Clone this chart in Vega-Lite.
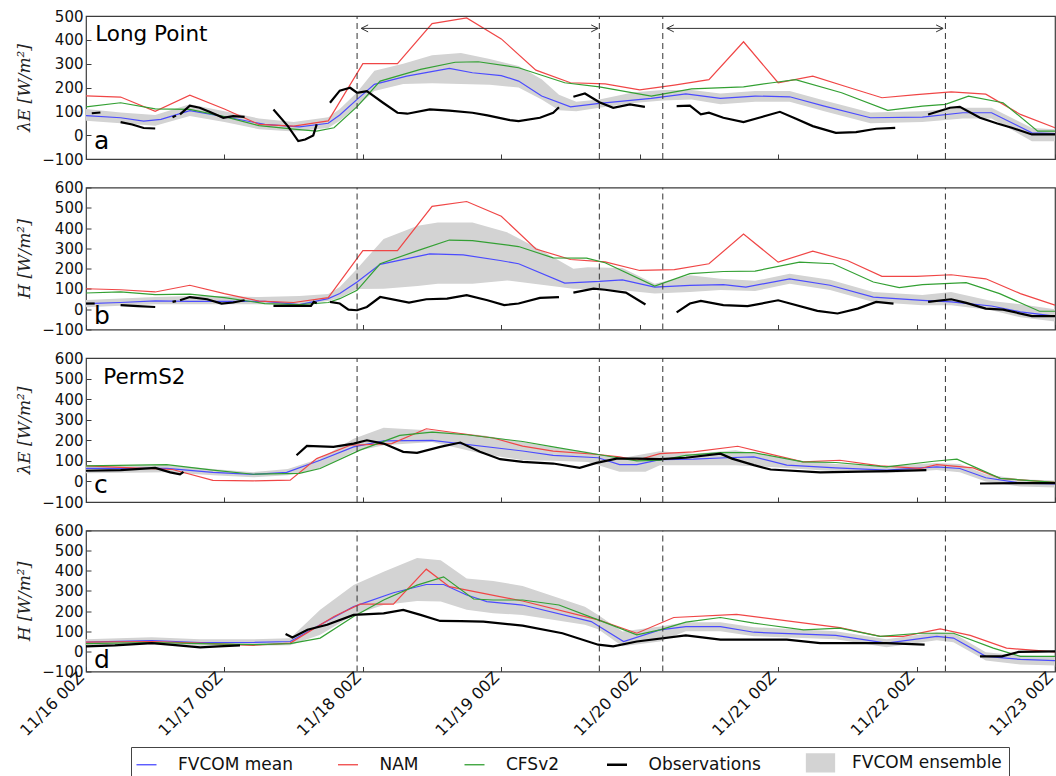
{
  "$schema": "https://vega.github.io/schema/vega-lite/v6.json",
  "padding": {"left": 15, "top": 8, "right": 1, "bottom": 0},
  "bounds": "flush",
  "spacing": 28.5,
  "datasets": {
    "L": [
      {"p":"a","s":"FVCOM mean","g":0,"h":0,"v":82},{"p":"a","s":"FVCOM mean","g":0,"h":6,"v":73},{"p":"a","s":"FVCOM mean","g":0,"h":10,"v":59},{"p":"a","s":"FVCOM mean","g":0,"h":13,"v":66},{"p":"a","s":"FVCOM mean","g":0,"h":18,"v":103},{"p":"a","s":"FVCOM mean","g":0,"h":25,"v":73},{"p":"a","s":"FVCOM mean","g":0,"h":31,"v":45},{"p":"a","s":"FVCOM mean","g":0,"h":37,"v":35},{"p":"a","s":"FVCOM mean","g":0,"h":42,"v":50},{"p":"a","s":"FVCOM mean","g":0,"h":44,"v":85},{"p":"a","s":"FVCOM mean","g":0,"h":47,"v":150},{"p":"a","s":"FVCOM mean","g":0,"h":50,"v":213},{"p":"a","s":"FVCOM mean","g":0,"h":55.6,"v":248},{"p":"a","s":"FVCOM mean","g":0,"h":63,"v":280},{"p":"a","s":"FVCOM mean","g":0,"h":67,"v":262},{"p":"a","s":"FVCOM mean","g":0,"h":72,"v":250},{"p":"a","s":"FVCOM mean","g":0,"h":75,"v":227},{"p":"a","s":"FVCOM mean","g":0,"h":79,"v":164},{"p":"a","s":"FVCOM mean","g":0,"h":84,"v":119},{"p":"a","s":"FVCOM mean","g":0,"h":89,"v":133},{"p":"a","s":"FVCOM mean","g":0,"h":98,"v":154},{"p":"a","s":"FVCOM mean","g":0,"h":104,"v":173},{"p":"a","s":"FVCOM mean","g":0,"h":110,"v":154},{"p":"a","s":"FVCOM mean","g":0,"h":116,"v":164},{"p":"a","s":"FVCOM mean","g":0,"h":122,"v":161},{"p":"a","s":"FVCOM mean","g":0,"h":128,"v":122},{"p":"a","s":"FVCOM mean","g":0,"h":136,"v":73},{"p":"a","s":"FVCOM mean","g":0,"h":145,"v":76},{"p":"a","s":"FVCOM mean","g":0,"h":152,"v":94},{"p":"a","s":"FVCOM mean","g":0,"h":157,"v":94},{"p":"a","s":"FVCOM mean","g":0,"h":164,"v":10},{"p":"a","s":"FVCOM mean","g":0,"h":168,"v":7},
      {"p":"a","s":"NAM","g":0,"h":0,"v":165},{"p":"a","s":"NAM","g":0,"h":6,"v":160},{"p":"a","s":"NAM","g":0,"h":12,"v":100},{"p":"a","s":"NAM","g":0,"h":18,"v":168},{"p":"a","s":"NAM","g":0,"h":24,"v":110},{"p":"a","s":"NAM","g":0,"h":30,"v":45},{"p":"a","s":"NAM","g":0,"h":36,"v":38},{"p":"a","s":"NAM","g":0,"h":42,"v":60},{"p":"a","s":"NAM","g":0,"h":48,"v":300},{"p":"a","s":"NAM","g":0,"h":54,"v":300},{"p":"a","s":"NAM","g":0,"h":60,"v":468},{"p":"a","s":"NAM","g":0,"h":66,"v":492},{"p":"a","s":"NAM","g":0,"h":72,"v":404},{"p":"a","s":"NAM","g":0,"h":78,"v":273},{"p":"a","s":"NAM","g":0,"h":84,"v":220},{"p":"a","s":"NAM","g":0,"h":90,"v":215},{"p":"a","s":"NAM","g":0,"h":96,"v":190},{"p":"a","s":"NAM","g":0,"h":102,"v":210},{"p":"a","s":"NAM","g":0,"h":108,"v":233},{"p":"a","s":"NAM","g":0,"h":114,"v":392},{"p":"a","s":"NAM","g":0,"h":120,"v":220},{"p":"a","s":"NAM","g":0,"h":126,"v":248},{"p":"a","s":"NAM","g":0,"h":132,"v":202},{"p":"a","s":"NAM","g":0,"h":138,"v":157},{"p":"a","s":"NAM","g":0,"h":144,"v":170},{"p":"a","s":"NAM","g":0,"h":150,"v":182},{"p":"a","s":"NAM","g":0,"h":156,"v":172},{"p":"a","s":"NAM","g":0,"h":162,"v":87},{"p":"a","s":"NAM","g":0,"h":168,"v":31},
      {"p":"a","s":"CFSv2","g":0,"h":0,"v":119},{"p":"a","s":"CFSv2","g":0,"h":6,"v":136},{"p":"a","s":"CFSv2","g":0,"h":12,"v":110},{"p":"a","s":"CFSv2","g":0,"h":18,"v":108},{"p":"a","s":"CFSv2","g":0,"h":24,"v":78},{"p":"a","s":"CFSv2","g":0,"h":30,"v":40},{"p":"a","s":"CFSv2","g":0,"h":36,"v":25},{"p":"a","s":"CFSv2","g":0,"h":40,"v":17},{"p":"a","s":"CFSv2","g":0,"h":43,"v":31},{"p":"a","s":"CFSv2","g":0,"h":47,"v":120},{"p":"a","s":"CFSv2","g":0,"h":51,"v":227},{"p":"a","s":"CFSv2","g":0,"h":58,"v":276},{"p":"a","s":"CFSv2","g":0,"h":64,"v":306},{"p":"a","s":"CFSv2","g":0,"h":68,"v":308},{"p":"a","s":"CFSv2","g":0,"h":75,"v":283},{"p":"a","s":"CFSv2","g":0,"h":83,"v":220},{"p":"a","s":"CFSv2","g":0,"h":89,"v":203},{"p":"a","s":"CFSv2","g":0,"h":98,"v":164},{"p":"a","s":"CFSv2","g":0,"h":105,"v":194},{"p":"a","s":"CFSv2","g":0,"h":114,"v":203},{"p":"a","s":"CFSv2","g":0,"h":119,"v":220},{"p":"a","s":"CFSv2","g":0,"h":123,"v":233},{"p":"a","s":"CFSv2","g":0,"h":131,"v":178},{"p":"a","s":"CFSv2","g":0,"h":139,"v":104},{"p":"a","s":"CFSv2","g":0,"h":145,"v":122},{"p":"a","s":"CFSv2","g":0,"h":149,"v":129},{"p":"a","s":"CFSv2","g":0,"h":153,"v":164},{"p":"a","s":"CFSv2","g":0,"h":159,"v":136},{"p":"a","s":"CFSv2","g":0,"h":165,"v":17},{"p":"a","s":"CFSv2","g":0,"h":168,"v":17},
      {"p":"a","s":"Observations","g":1,"h":1,"v":92},{"p":"a","s":"Observations","g":1,"h":2.5,"v":95},
      {"p":"a","s":"Observations","g":2,"h":6,"v":55},{"p":"a","s":"Observations","g":2,"h":8,"v":45},{"p":"a","s":"Observations","g":2,"h":10,"v":30},{"p":"a","s":"Observations","g":2,"h":12,"v":28},
      {"p":"a","s":"Observations","g":3,"h":15,"v":75},{"p":"a","s":"Observations","g":3,"h":15.6,"v":82},
      {"p":"a","s":"Observations","g":4,"h":16.3,"v":87},{"p":"a","s":"Observations","g":4,"h":18,"v":124},{"p":"a","s":"Observations","g":4,"h":19.7,"v":115},{"p":"a","s":"Observations","g":4,"h":21.5,"v":97},{"p":"a","s":"Observations","g":4,"h":23.8,"v":73},{"p":"a","s":"Observations","g":4,"h":25.5,"v":80},{"p":"a","s":"Observations","g":4,"h":27.5,"v":77},
      {"p":"a","s":"Observations","g":5,"h":32.5,"v":108},{"p":"a","s":"Observations","g":5,"h":35,"v":38},{"p":"a","s":"Observations","g":5,"h":36.8,"v":-25},{"p":"a","s":"Observations","g":5,"h":38,"v":-18},{"p":"a","s":"Observations","g":5,"h":39.4,"v":-1},{"p":"a","s":"Observations","g":5,"h":40,"v":45},
      {"p":"a","s":"Observations","g":6,"h":42.3,"v":136},{"p":"a","s":"Observations","g":6,"h":44,"v":187},{"p":"a","s":"Observations","g":6,"h":45.8,"v":199},{"p":"a","s":"Observations","g":6,"h":47,"v":178},{"p":"a","s":"Observations","g":6,"h":48.7,"v":185},{"p":"a","s":"Observations","g":6,"h":51.5,"v":136},{"p":"a","s":"Observations","g":6,"h":54,"v":94},{"p":"a","s":"Observations","g":6,"h":55.7,"v":90},{"p":"a","s":"Observations","g":6,"h":59.6,"v":108},{"p":"a","s":"Observations","g":6,"h":63,"v":103},{"p":"a","s":"Observations","g":6,"h":67,"v":94},{"p":"a","s":"Observations","g":6,"h":69.6,"v":83},{"p":"a","s":"Observations","g":6,"h":73.5,"v":63},{"p":"a","s":"Observations","g":6,"h":75,"v":59},{"p":"a","s":"Observations","g":6,"h":78.7,"v":73},{"p":"a","s":"Observations","g":6,"h":81,"v":94},{"p":"a","s":"Observations","g":6,"h":82,"v":117},
      {"p":"a","s":"Observations","g":7,"h":84.5,"v":161},{"p":"a","s":"Observations","g":7,"h":86.5,"v":175},{"p":"a","s":"Observations","g":7,"h":89,"v":138},{"p":"a","s":"Observations","g":7,"h":91.4,"v":115},{"p":"a","s":"Observations","g":7,"h":94.3,"v":129},{"p":"a","s":"Observations","g":7,"h":96.9,"v":119},
      {"p":"a","s":"Observations","g":8,"h":102.4,"v":122},{"p":"a","s":"Observations","g":8,"h":104.7,"v":124},{"p":"a","s":"Observations","g":8,"h":106.6,"v":87},{"p":"a","s":"Observations","g":8,"h":108,"v":94},{"p":"a","s":"Observations","g":8,"h":110.5,"v":73},{"p":"a","s":"Observations","g":8,"h":114,"v":55},{"p":"a","s":"Observations","g":8,"h":117,"v":75},{"p":"a","s":"Observations","g":8,"h":120.3,"v":98},{"p":"a","s":"Observations","g":8,"h":123,"v":70},{"p":"a","s":"Observations","g":8,"h":126,"v":38},{"p":"a","s":"Observations","g":8,"h":130,"v":10},{"p":"a","s":"Observations","g":8,"h":133.5,"v":13},{"p":"a","s":"Observations","g":8,"h":137,"v":27},{"p":"a","s":"Observations","g":8,"h":140.3,"v":31},
      {"p":"a","s":"Observations","g":9,"h":146,"v":87},{"p":"a","s":"Observations","g":9,"h":149.8,"v":115},{"p":"a","s":"Observations","g":9,"h":151.5,"v":119},{"p":"a","s":"Observations","g":9,"h":155,"v":73},{"p":"a","s":"Observations","g":9,"h":158,"v":49},{"p":"a","s":"Observations","g":9,"h":160.5,"v":31},{"p":"a","s":"Observations","g":9,"h":164,"v":3},{"p":"a","s":"Observations","g":9,"h":168,"v":3},

      {"p":"b","s":"FVCOM mean","g":0,"h":0,"v":28},{"p":"b","s":"FVCOM mean","g":0,"h":6,"v":33},{"p":"b","s":"FVCOM mean","g":0,"h":12,"v":41},{"p":"b","s":"FVCOM mean","g":0,"h":18,"v":39},{"p":"b","s":"FVCOM mean","g":0,"h":24,"v":39},{"p":"b","s":"FVCOM mean","g":0,"h":31,"v":39},{"p":"b","s":"FVCOM mean","g":0,"h":37,"v":23},{"p":"b","s":"FVCOM mean","g":0,"h":42,"v":52},{"p":"b","s":"FVCOM mean","g":0,"h":44,"v":77},{"p":"b","s":"FVCOM mean","g":0,"h":47,"v":134},{"p":"b","s":"FVCOM mean","g":0,"h":51,"v":221},{"p":"b","s":"FVCOM mean","g":0,"h":59.6,"v":273},{"p":"b","s":"FVCOM mean","g":0,"h":65.4,"v":268},{"p":"b","s":"FVCOM mean","g":0,"h":71.8,"v":240},{"p":"b","s":"FVCOM mean","g":0,"h":75,"v":224},{"p":"b","s":"FVCOM mean","g":0,"h":83,"v":129},{"p":"b","s":"FVCOM mean","g":0,"h":89,"v":137},{"p":"b","s":"FVCOM mean","g":0,"h":93,"v":145},{"p":"b","s":"FVCOM mean","g":0,"h":98.6,"v":109},{"p":"b","s":"FVCOM mean","g":0,"h":104.7,"v":118},{"p":"b","s":"FVCOM mean","g":0,"h":110.5,"v":121},{"p":"b","s":"FVCOM mean","g":0,"h":114.4,"v":109},{"p":"b","s":"FVCOM mean","g":0,"h":122,"v":150},{"p":"b","s":"FVCOM mean","g":0,"h":129,"v":118},{"p":"b","s":"FVCOM mean","g":0,"h":136.5,"v":60},{"p":"b","s":"FVCOM mean","g":0,"h":145,"v":44},{"p":"b","s":"FVCOM mean","g":0,"h":150,"v":36},{"p":"b","s":"FVCOM mean","g":0,"h":157,"v":16},{"p":"b","s":"FVCOM mean","g":0,"h":162,"v":-13},{"p":"b","s":"FVCOM mean","g":0,"h":168,"v":-34},
      {"p":"b","s":"NAM","g":0,"h":0,"v":101},{"p":"b","s":"NAM","g":0,"h":6,"v":96},{"p":"b","s":"NAM","g":0,"h":12,"v":85},{"p":"b","s":"NAM","g":0,"h":18,"v":118},{"p":"b","s":"NAM","g":0,"h":24,"v":77},{"p":"b","s":"NAM","g":0,"h":30,"v":40},{"p":"b","s":"NAM","g":0,"h":36,"v":33},{"p":"b","s":"NAM","g":0,"h":42,"v":57},{"p":"b","s":"NAM","g":0,"h":48,"v":289},{"p":"b","s":"NAM","g":0,"h":54,"v":289},{"p":"b","s":"NAM","g":0,"h":60,"v":507},{"p":"b","s":"NAM","g":0,"h":66,"v":531},{"p":"b","s":"NAM","g":0,"h":72,"v":458},{"p":"b","s":"NAM","g":0,"h":78,"v":297},{"p":"b","s":"NAM","g":0,"h":84,"v":245},{"p":"b","s":"NAM","g":0,"h":90,"v":233},{"p":"b","s":"NAM","g":0,"h":96,"v":191},{"p":"b","s":"NAM","g":0,"h":102,"v":195},{"p":"b","s":"NAM","g":0,"h":108,"v":224},{"p":"b","s":"NAM","g":0,"h":114,"v":371},{"p":"b","s":"NAM","g":0,"h":120,"v":232},{"p":"b","s":"NAM","g":0,"h":126,"v":286},{"p":"b","s":"NAM","g":0,"h":132,"v":240},{"p":"b","s":"NAM","g":0,"h":138,"v":162},{"p":"b","s":"NAM","g":0,"h":144,"v":162},{"p":"b","s":"NAM","g":0,"h":150,"v":170},{"p":"b","s":"NAM","g":0,"h":156,"v":150},{"p":"b","s":"NAM","g":0,"h":162,"v":77},{"p":"b","s":"NAM","g":0,"h":168,"v":20},
      {"p":"b","s":"CFSv2","g":0,"h":0,"v":80},{"p":"b","s":"CFSv2","g":0,"h":6,"v":85},{"p":"b","s":"CFSv2","g":0,"h":12,"v":72},{"p":"b","s":"CFSv2","g":0,"h":18,"v":74},{"p":"b","s":"CFSv2","g":0,"h":24,"v":57},{"p":"b","s":"CFSv2","g":0,"h":31,"v":28},{"p":"b","s":"CFSv2","g":0,"h":37,"v":23},{"p":"b","s":"CFSv2","g":0,"h":42,"v":33},{"p":"b","s":"CFSv2","g":0,"h":44,"v":52},{"p":"b","s":"CFSv2","g":0,"h":47,"v":93},{"p":"b","s":"CFSv2","g":0,"h":51,"v":224},{"p":"b","s":"CFSv2","g":0,"h":57.5,"v":289},{"p":"b","s":"CFSv2","g":0,"h":63,"v":341},{"p":"b","s":"CFSv2","g":0,"h":67,"v":338},{"p":"b","s":"CFSv2","g":0,"h":75,"v":309},{"p":"b","s":"CFSv2","g":0,"h":81,"v":253},{"p":"b","s":"CFSv2","g":0,"h":86.8,"v":252},{"p":"b","s":"CFSv2","g":0,"h":90,"v":229},{"p":"b","s":"CFSv2","g":0,"h":98.6,"v":114},{"p":"b","s":"CFSv2","g":0,"h":104.7,"v":175},{"p":"b","s":"CFSv2","g":0,"h":110.5,"v":186},{"p":"b","s":"CFSv2","g":0,"h":116,"v":188},{"p":"b","s":"CFSv2","g":0,"h":123.7,"v":232},{"p":"b","s":"CFSv2","g":0,"h":129.5,"v":224},{"p":"b","s":"CFSv2","g":0,"h":136.5,"v":134},{"p":"b","s":"CFSv2","g":0,"h":141,"v":106},{"p":"b","s":"CFSv2","g":0,"h":145,"v":121},{"p":"b","s":"CFSv2","g":0,"h":152.6,"v":131},{"p":"b","s":"CFSv2","g":0,"h":158.4,"v":77},{"p":"b","s":"CFSv2","g":0,"h":165.3,"v":-10},{"p":"b","s":"CFSv2","g":0,"h":168,"v":-10},
      {"p":"b","s":"Observations","g":1,"h":0,"v":28},{"p":"b","s":"Observations","g":1,"h":1.5,"v":28},
      {"p":"b","s":"Observations","g":2,"h":6,"v":20},{"p":"b","s":"Observations","g":2,"h":9,"v":15},{"p":"b","s":"Observations","g":2,"h":12,"v":11},
      {"p":"b","s":"Observations","g":3,"h":15,"v":36},{"p":"b","s":"Observations","g":3,"h":15.6,"v":40},
      {"p":"b","s":"Observations","g":4,"h":16.3,"v":44},{"p":"b","s":"Observations","g":4,"h":18,"v":60},{"p":"b","s":"Observations","g":4,"h":21,"v":49},{"p":"b","s":"Observations","g":4,"h":23.5,"v":28},{"p":"b","s":"Observations","g":4,"h":25.5,"v":33},{"p":"b","s":"Observations","g":4,"h":27.5,"v":44},
      {"p":"b","s":"Observations","g":5,"h":32.5,"v":16},{"p":"b","s":"Observations","g":5,"h":36,"v":16},{"p":"b","s":"Observations","g":5,"h":39,"v":16},{"p":"b","s":"Observations","g":5,"h":39.5,"v":36},{"p":"b","s":"Observations","g":5,"h":40,"v":30},
      {"p":"b","s":"Observations","g":6,"h":42.3,"v":36},{"p":"b","s":"Observations","g":6,"h":44,"v":28},{"p":"b","s":"Observations","g":6,"h":45.5,"v":-2},{"p":"b","s":"Observations","g":6,"h":47,"v":-5},{"p":"b","s":"Observations","g":6,"h":48.7,"v":11},{"p":"b","s":"Observations","g":6,"h":51,"v":60},{"p":"b","s":"Observations","g":6,"h":56,"v":33},{"p":"b","s":"Observations","g":6,"h":59,"v":49},{"p":"b","s":"Observations","g":6,"h":62.6,"v":52},{"p":"b","s":"Observations","g":6,"h":66,"v":69},{"p":"b","s":"Observations","g":6,"h":69.6,"v":44},{"p":"b","s":"Observations","g":6,"h":72.5,"v":20},{"p":"b","s":"Observations","g":6,"h":75,"v":28},{"p":"b","s":"Observations","g":6,"h":78.7,"v":56},{"p":"b","s":"Observations","g":6,"h":82,"v":60},
      {"p":"b","s":"Observations","g":7,"h":84.5,"v":82},{"p":"b","s":"Observations","g":7,"h":88,"v":101},{"p":"b","s":"Observations","g":7,"h":90,"v":96},{"p":"b","s":"Observations","g":7,"h":93.6,"v":82},{"p":"b","s":"Observations","g":7,"h":97,"v":23},
      {"p":"b","s":"Observations","g":8,"h":102.4,"v":-16},{"p":"b","s":"Observations","g":8,"h":104.7,"v":28},{"p":"b","s":"Observations","g":8,"h":106.6,"v":41},{"p":"b","s":"Observations","g":8,"h":110.5,"v":20},{"p":"b","s":"Observations","g":8,"h":114.7,"v":15},{"p":"b","s":"Observations","g":8,"h":120,"v":44},{"p":"b","s":"Observations","g":8,"h":126.8,"v":-8},{"p":"b","s":"Observations","g":8,"h":130.3,"v":-21},{"p":"b","s":"Observations","g":8,"h":133.8,"v":3},{"p":"b","s":"Observations","g":8,"h":137,"v":36},{"p":"b","s":"Observations","g":8,"h":140,"v":28},
      {"p":"b","s":"Observations","g":9,"h":146,"v":36},{"p":"b","s":"Observations","g":9,"h":150,"v":49},{"p":"b","s":"Observations","g":9,"h":152.6,"v":31},{"p":"b","s":"Observations","g":9,"h":156,"v":3},{"p":"b","s":"Observations","g":9,"h":159,"v":-2},{"p":"b","s":"Observations","g":9,"h":164,"v":-34},{"p":"b","s":"Observations","g":9,"h":168,"v":-34},

      {"p":"c","s":"FVCOM mean","g":0,"h":0,"v":63},{"p":"c","s":"FVCOM mean","g":0,"h":14,"v":63},{"p":"c","s":"FVCOM mean","g":0,"h":22,"v":44},{"p":"c","s":"FVCOM mean","g":0,"h":29,"v":34},{"p":"c","s":"FVCOM mean","g":0,"h":34.8,"v":44},{"p":"c","s":"FVCOM mean","g":0,"h":40.6,"v":103},{"p":"c","s":"FVCOM mean","g":0,"h":46.4,"v":168},{"p":"c","s":"FVCOM mean","g":0,"h":51.6,"v":197},{"p":"c","s":"FVCOM mean","g":0,"h":60,"v":200},{"p":"c","s":"FVCOM mean","g":0,"h":75.7,"v":148},{"p":"c","s":"FVCOM mean","g":0,"h":81,"v":127},{"p":"c","s":"FVCOM mean","g":0,"h":88.8,"v":115},{"p":"c","s":"FVCOM mean","g":0,"h":92.5,"v":82},{"p":"c","s":"FVCOM mean","g":0,"h":95.5,"v":82},{"p":"c","s":"FVCOM mean","g":0,"h":99.5,"v":106},{"p":"c","s":"FVCOM mean","g":0,"h":105.3,"v":108},{"p":"c","s":"FVCOM mean","g":0,"h":111,"v":115},{"p":"c","s":"FVCOM mean","g":0,"h":115.8,"v":119},{"p":"c","s":"FVCOM mean","g":0,"h":121.5,"v":79},{"p":"c","s":"FVCOM mean","g":0,"h":130,"v":66},{"p":"c","s":"FVCOM mean","g":0,"h":138.8,"v":55},{"p":"c","s":"FVCOM mean","g":0,"h":147.5,"v":71},{"p":"c","s":"FVCOM mean","g":0,"h":151.5,"v":63},{"p":"c","s":"FVCOM mean","g":0,"h":156,"v":18},{"p":"c","s":"FVCOM mean","g":0,"h":162,"v":-8},{"p":"c","s":"FVCOM mean","g":0,"h":168,"v":-12},
      {"p":"c","s":"NAM","g":0,"h":0,"v":76},{"p":"c","s":"NAM","g":0,"h":8,"v":66},{"p":"c","s":"NAM","g":0,"h":15,"v":58},{"p":"c","s":"NAM","g":0,"h":22,"v":5},{"p":"c","s":"NAM","g":0,"h":29,"v":3},{"p":"c","s":"NAM","g":0,"h":35.4,"v":6},{"p":"c","s":"NAM","g":0,"h":40,"v":111},{"p":"c","s":"NAM","g":0,"h":45.8,"v":176},{"p":"c","s":"NAM","g":0,"h":53,"v":184},{"p":"c","s":"NAM","g":0,"h":59,"v":256},{"p":"c","s":"NAM","g":0,"h":70.6,"v":211},{"p":"c","s":"NAM","g":0,"h":75.7,"v":172},{"p":"c","s":"NAM","g":0,"h":81,"v":147},{"p":"c","s":"NAM","g":0,"h":88.8,"v":131},{"p":"c","s":"NAM","g":0,"h":92.5,"v":119},{"p":"c","s":"NAM","g":0,"h":95.5,"v":103},{"p":"c","s":"NAM","g":0,"h":99.5,"v":135},{"p":"c","s":"NAM","g":0,"h":105.3,"v":144},{"p":"c","s":"NAM","g":0,"h":113,"v":171},{"p":"c","s":"NAM","g":0,"h":124.3,"v":95},{"p":"c","s":"NAM","g":0,"h":130.7,"v":103},{"p":"c","s":"NAM","g":0,"h":137.7,"v":76},{"p":"c","s":"NAM","g":0,"h":144.6,"v":63},{"p":"c","s":"NAM","g":0,"h":147.5,"v":82},{"p":"c","s":"NAM","g":0,"h":153.8,"v":66},{"p":"c","s":"NAM","g":0,"h":158.5,"v":15},{"p":"c","s":"NAM","g":0,"h":168,"v":-5},
      {"p":"c","s":"CFSv2","g":0,"h":0,"v":76},{"p":"c","s":"CFSv2","g":0,"h":14,"v":82},{"p":"c","s":"CFSv2","g":0,"h":22,"v":55},{"p":"c","s":"CFSv2","g":0,"h":29,"v":35},{"p":"c","s":"CFSv2","g":0,"h":37,"v":39},{"p":"c","s":"CFSv2","g":0,"h":40.6,"v":63},{"p":"c","s":"CFSv2","g":0,"h":47.5,"v":152},{"p":"c","s":"CFSv2","g":0,"h":54.4,"v":224},{"p":"c","s":"CFSv2","g":0,"h":60,"v":240},{"p":"c","s":"CFSv2","g":0,"h":66,"v":227},{"p":"c","s":"CFSv2","g":0,"h":75.7,"v":194},{"p":"c","s":"CFSv2","g":0,"h":81,"v":168},{"p":"c","s":"CFSv2","g":0,"h":88.8,"v":131},{"p":"c","s":"CFSv2","g":0,"h":95.5,"v":100},{"p":"c","s":"CFSv2","g":0,"h":99.5,"v":103},{"p":"c","s":"CFSv2","g":0,"h":104,"v":127},{"p":"c","s":"CFSv2","g":0,"h":110,"v":140},{"p":"c","s":"CFSv2","g":0,"h":115.8,"v":140},{"p":"c","s":"CFSv2","g":0,"h":124.3,"v":95},{"p":"c","s":"CFSv2","g":0,"h":130,"v":92},{"p":"c","s":"CFSv2","g":0,"h":138.8,"v":71},{"p":"c","s":"CFSv2","g":0,"h":147,"v":98},{"p":"c","s":"CFSv2","g":0,"h":151,"v":108},{"p":"c","s":"CFSv2","g":0,"h":158.5,"v":15},{"p":"c","s":"CFSv2","g":0,"h":168,"v":-5},
      {"p":"c","s":"Observations","g":1,"h":0,"v":52},{"p":"c","s":"Observations","g":1,"h":6,"v":55},{"p":"c","s":"Observations","g":1,"h":12,"v":66},{"p":"c","s":"Observations","g":1,"h":14.6,"v":44},{"p":"c","s":"Observations","g":1,"h":16.3,"v":34},{"p":"c","s":"Observations","g":1,"h":16.9,"v":47},
      {"p":"c","s":"Observations","g":2,"h":36.5,"v":127},{"p":"c","s":"Observations","g":2,"h":38.3,"v":173},{"p":"c","s":"Observations","g":2,"h":42.9,"v":168},{"p":"c","s":"Observations","g":2,"h":46.4,"v":184},{"p":"c","s":"Observations","g":2,"h":48.7,"v":200},{"p":"c","s":"Observations","g":2,"h":51.6,"v":184},{"p":"c","s":"Observations","g":2,"h":55,"v":144},{"p":"c","s":"Observations","g":2,"h":57.4,"v":139},{"p":"c","s":"Observations","g":2,"h":61.4,"v":168},{"p":"c","s":"Observations","g":2,"h":64.9,"v":189},{"p":"c","s":"Observations","g":2,"h":68.3,"v":144},{"p":"c","s":"Observations","g":2,"h":71.8,"v":108},{"p":"c","s":"Observations","g":2,"h":75.7,"v":95},{"p":"c","s":"Observations","g":2,"h":81,"v":87},{"p":"c","s":"Observations","g":2,"h":85.6,"v":66},{"p":"c","s":"Observations","g":2,"h":88.5,"v":90},{"p":"c","s":"Observations","g":2,"h":92,"v":111},{"p":"c","s":"Observations","g":2,"h":95.5,"v":111},{"p":"c","s":"Observations","g":2,"h":99.5,"v":108},{"p":"c","s":"Observations","g":2,"h":104,"v":115},{"p":"c","s":"Observations","g":2,"h":110,"v":135},{"p":"c","s":"Observations","g":2,"h":112,"v":111},{"p":"c","s":"Observations","g":2,"h":115.8,"v":79},{"p":"c","s":"Observations","g":2,"h":118.7,"v":58},{"p":"c","s":"Observations","g":2,"h":127.3,"v":44},{"p":"c","s":"Observations","g":2,"h":138.8,"v":50},{"p":"c","s":"Observations","g":2,"h":145.7,"v":55},
      {"p":"c","s":"Observations","g":3,"h":155,"v":-10},{"p":"c","s":"Observations","g":3,"h":162,"v":-8},{"p":"c","s":"Observations","g":3,"h":168,"v":-8},

      {"p":"d","s":"FVCOM mean","g":0,"h":0,"v":46},{"p":"d","s":"FVCOM mean","g":0,"h":11.4,"v":54},{"p":"d","s":"FVCOM mean","g":0,"h":19.8,"v":44},{"p":"d","s":"FVCOM mean","g":0,"h":29,"v":44},{"p":"d","s":"FVCOM mean","g":0,"h":35.4,"v":49},{"p":"d","s":"FVCOM mean","g":0,"h":40.6,"v":132},{"p":"d","s":"FVCOM mean","g":0,"h":46.4,"v":222},{"p":"d","s":"FVCOM mean","g":0,"h":53.3,"v":291},{"p":"d","s":"FVCOM mean","g":0,"h":59,"v":332},{"p":"d","s":"FVCOM mean","g":0,"h":62,"v":332},{"p":"d","s":"FVCOM mean","g":0,"h":66,"v":280},{"p":"d","s":"FVCOM mean","g":0,"h":69.5,"v":247},{"p":"d","s":"FVCOM mean","g":0,"h":75.7,"v":230},{"p":"d","s":"FVCOM mean","g":0,"h":87.6,"v":148},{"p":"d","s":"FVCOM mean","g":0,"h":93.2,"v":49},{"p":"d","s":"FVCOM mean","g":0,"h":99.5,"v":107},{"p":"d","s":"FVCOM mean","g":0,"h":104,"v":123},{"p":"d","s":"FVCOM mean","g":0,"h":110,"v":123},{"p":"d","s":"FVCOM mean","g":0,"h":115.8,"v":95},{"p":"d","s":"FVCOM mean","g":0,"h":130,"v":79},{"p":"d","s":"FVCOM mean","g":0,"h":138.8,"v":41},{"p":"d","s":"FVCOM mean","g":0,"h":147.5,"v":74},{"p":"d","s":"FVCOM mean","g":0,"h":150.4,"v":66},{"p":"d","s":"FVCOM mean","g":0,"h":156,"v":-25},{"p":"d","s":"FVCOM mean","g":0,"h":162,"v":-40},{"p":"d","s":"FVCOM mean","g":0,"h":168,"v":-46},
      {"p":"d","s":"NAM","g":0,"h":0,"v":46},{"p":"d","s":"NAM","g":0,"h":11.4,"v":49},{"p":"d","s":"NAM","g":0,"h":19.8,"v":41},{"p":"d","s":"NAM","g":0,"h":29,"v":30},{"p":"d","s":"NAM","g":0,"h":35.4,"v":41},{"p":"d","s":"NAM","g":0,"h":43,"v":173},{"p":"d","s":"NAM","g":0,"h":47.5,"v":234},{"p":"d","s":"NAM","g":0,"h":53.3,"v":234},{"p":"d","s":"NAM","g":0,"h":59,"v":408},{"p":"d","s":"NAM","g":0,"h":63,"v":321},{"p":"d","s":"NAM","g":0,"h":68.9,"v":288},{"p":"d","s":"NAM","g":0,"h":75.7,"v":250},{"p":"d","s":"NAM","g":0,"h":88.8,"v":156},{"p":"d","s":"NAM","g":0,"h":95.5,"v":90},{"p":"d","s":"NAM","g":0,"h":101.9,"v":168},{"p":"d","s":"NAM","g":0,"h":112.8,"v":184},{"p":"d","s":"NAM","g":0,"h":130.7,"v":118},{"p":"d","s":"NAM","g":0,"h":137.7,"v":74},{"p":"d","s":"NAM","g":0,"h":141.7,"v":74},{"p":"d","s":"NAM","g":0,"h":148.1,"v":112},{"p":"d","s":"NAM","g":0,"h":153.3,"v":79},{"p":"d","s":"NAM","g":0,"h":159.6,"v":16},{"p":"d","s":"NAM","g":0,"h":168,"v":-3},
      {"p":"d","s":"CFSv2","g":0,"h":0,"v":38},{"p":"d","s":"CFSv2","g":0,"h":11.4,"v":44},{"p":"d","s":"CFSv2","g":0,"h":19.8,"v":38},{"p":"d","s":"CFSv2","g":0,"h":29,"v":33},{"p":"d","s":"CFSv2","g":0,"h":35.4,"v":38},{"p":"d","s":"CFSv2","g":0,"h":40.6,"v":66},{"p":"d","s":"CFSv2","g":0,"h":46.4,"v":173},{"p":"d","s":"CFSv2","g":0,"h":51.6,"v":255},{"p":"d","s":"CFSv2","g":0,"h":57.4,"v":329},{"p":"d","s":"CFSv2","g":0,"h":62,"v":370},{"p":"d","s":"CFSv2","g":0,"h":67.2,"v":260},{"p":"d","s":"CFSv2","g":0,"h":70.6,"v":255},{"p":"d","s":"CFSv2","g":0,"h":75.7,"v":255},{"p":"d","s":"CFSv2","g":0,"h":82,"v":230},{"p":"d","s":"CFSv2","g":0,"h":88.8,"v":156},{"p":"d","s":"CFSv2","g":0,"h":95.5,"v":82},{"p":"d","s":"CFSv2","g":0,"h":99.5,"v":107},{"p":"d","s":"CFSv2","g":0,"h":104,"v":145},{"p":"d","s":"CFSv2","g":0,"h":110,"v":168},{"p":"d","s":"CFSv2","g":0,"h":115.8,"v":140},{"p":"d","s":"CFSv2","g":0,"h":124.4,"v":107},{"p":"d","s":"CFSv2","g":0,"h":130.7,"v":115},{"p":"d","s":"CFSv2","g":0,"h":137.7,"v":74},{"p":"d","s":"CFSv2","g":0,"h":144.6,"v":90},{"p":"d","s":"CFSv2","g":0,"h":150.4,"v":90},{"p":"d","s":"CFSv2","g":0,"h":157.3,"v":16},{"p":"d","s":"CFSv2","g":0,"h":162,"v":-25},{"p":"d","s":"CFSv2","g":0,"h":168,"v":-25},
      {"p":"d","s":"Observations","g":1,"h":0,"v":25},{"p":"d","s":"Observations","g":1,"h":5,"v":30},{"p":"d","s":"Observations","g":1,"h":11.4,"v":41},{"p":"d","s":"Observations","g":1,"h":15,"v":32},{"p":"d","s":"Observations","g":1,"h":19.8,"v":20},{"p":"d","s":"Observations","g":1,"h":23,"v":25},{"p":"d","s":"Observations","g":1,"h":26.7,"v":30},
      {"p":"d","s":"Observations","g":2,"h":34.6,"v":86},{"p":"d","s":"Observations","g":2,"h":35.8,"v":69},{"p":"d","s":"Observations","g":2,"h":38.4,"v":107},{"p":"d","s":"Observations","g":2,"h":41.8,"v":132},{"p":"d","s":"Observations","g":2,"h":46.4,"v":181},{"p":"d","s":"Observations","g":2,"h":51.6,"v":189},{"p":"d","s":"Observations","g":2,"h":55,"v":206},{"p":"d","s":"Observations","g":2,"h":58,"v":181},{"p":"d","s":"Observations","g":2,"h":61.4,"v":151},{"p":"d","s":"Observations","g":2,"h":65,"v":150},{"p":"d","s":"Observations","g":2,"h":68.9,"v":148},{"p":"d","s":"Observations","g":2,"h":75.7,"v":128},{"p":"d","s":"Observations","g":2,"h":82.6,"v":90},{"p":"d","s":"Observations","g":2,"h":88.8,"v":33},{"p":"d","s":"Observations","g":2,"h":91.4,"v":25},{"p":"d","s":"Observations","g":2,"h":95.5,"v":49},{"p":"d","s":"Observations","g":2,"h":104,"v":79},{"p":"d","s":"Observations","g":2,"h":110,"v":58},{"p":"d","s":"Observations","g":2,"h":121.5,"v":58},{"p":"d","s":"Observations","g":2,"h":127.3,"v":41},{"p":"d","s":"Observations","g":2,"h":138.8,"v":41},{"p":"d","s":"Observations","g":2,"h":145.4,"v":33},
      {"p":"d","s":"Observations","g":3,"h":155,"v":-25},{"p":"d","s":"Observations","g":3,"h":158.8,"v":-25},{"p":"d","s":"Observations","g":3,"h":161.7,"v":-3},{"p":"d","s":"Observations","g":3,"h":168,"v":0}
    ],
    "E": [
      {"p":"a","h":0,"v":60,"v2":110},{"p":"a","h":6,"v":50,"v2":95},{"p":"a","h":12,"v":40,"v2":85},{"p":"a","h":18,"v":80,"v2":130},{"p":"a","h":24,"v":55,"v2":100},{"p":"a","h":30,"v":25,"v2":70},{"p":"a","h":36,"v":15,"v2":55},{"p":"a","h":42,"v":30,"v2":75},{"p":"a","h":44,"v":60,"v2":110},{"p":"a","h":47,"v":120,"v2":180},{"p":"a","h":50,"v":185,"v2":270},{"p":"a","h":55,"v":215,"v2":300},{"p":"a","h":60,"v":218,"v2":335},{"p":"a","h":65,"v":215,"v2":345},{"p":"a","h":70,"v":212,"v2":320},{"p":"a","h":75,"v":200,"v2":290},{"p":"a","h":79,"v":150,"v2":235},{"p":"a","h":82,"v":105,"v2":170},{"p":"a","h":85,"v":100,"v2":140},{"p":"a","h":89,"v":115,"v2":150},{"p":"a","h":95,"v":135,"v2":180},{"p":"a","h":100,"v":145,"v2":190},{"p":"a","h":105,"v":150,"v2":190},{"p":"a","h":110,"v":130,"v2":175},{"p":"a","h":116,"v":140,"v2":185},{"p":"a","h":122,"v":140,"v2":185},{"p":"a","h":128,"v":100,"v2":145},{"p":"a","h":136,"v":50,"v2":95},{"p":"a","h":145,"v":55,"v2":100},{"p":"a","h":152,"v":70,"v2":115},{"p":"a","h":157,"v":70,"v2":115},{"p":"a","h":164,"v":-25,"v2":30},{"p":"a","h":168,"v":-25,"v2":25},
      {"p":"b","h":0,"v":10,"v2":45},{"p":"b","h":12,"v":25,"v2":60},{"p":"b","h":18,"v":25,"v2":65},{"p":"b","h":24,"v":25,"v2":65},{"p":"b","h":30,"v":25,"v2":60},{"p":"b","h":37,"v":25,"v2":65},{"p":"b","h":42,"v":40,"v2":75},{"p":"b","h":44,"v":55,"v2":110},{"p":"b","h":47,"v":100,"v2":200},{"p":"b","h":51.6,"v":101,"v2":346},{"p":"b","h":57.5,"v":114,"v2":412},{"p":"b","h":61,"v":126,"v2":428},{"p":"b","h":67,"v":126,"v2":428},{"p":"b","h":73,"v":142,"v2":379},{"p":"b","h":79,"v":121,"v2":289},{"p":"b","h":84.5,"v":101,"v2":199},{"p":"b","h":87,"v":100,"v2":207},{"p":"b","h":93,"v":93,"v2":203},{"p":"b","h":98.6,"v":77,"v2":126},{"p":"b","h":104.7,"v":85,"v2":167},{"p":"b","h":110,"v":95,"v2":150},{"p":"b","h":116,"v":90,"v2":140},{"p":"b","h":122,"v":125,"v2":175},{"p":"b","h":129,"v":95,"v2":145},{"p":"b","h":136.5,"v":35,"v2":85},{"p":"b","h":145,"v":20,"v2":70},{"p":"b","h":150,"v":20,"v2":85},{"p":"b","h":157,"v":-5,"v2":40},{"p":"b","h":162,"v":-40,"v2":25},{"p":"b","h":168,"v":-60,"v2":0},
      {"p":"c","h":0,"v":40,"v2":75},{"p":"c","h":14,"v":45,"v2":80},{"p":"c","h":22,"v":30,"v2":60},{"p":"c","h":29,"v":20,"v2":45},{"p":"c","h":35,"v":30,"v2":60},{"p":"c","h":40.6,"v":63,"v2":111},{"p":"c","h":46.4,"v":144,"v2":208},{"p":"c","h":51.6,"v":176,"v2":261},{"p":"c","h":60,"v":192,"v2":248},{"p":"c","h":68.7,"v":135,"v2":224},{"p":"c","h":75.7,"v":103,"v2":192},{"p":"c","h":81,"v":100,"v2":165},{"p":"c","h":87,"v":95,"v2":144},{"p":"c","h":92.5,"v":47,"v2":111},{"p":"c","h":97,"v":47,"v2":135},{"p":"c","h":99.5,"v":79,"v2":147},{"p":"c","h":105.3,"v":79,"v2":135},{"p":"c","h":112.6,"v":79,"v2":152},{"p":"c","h":118,"v":71,"v2":127},{"p":"c","h":124,"v":60,"v2":100},{"p":"c","h":130,"v":50,"v2":85},{"p":"c","h":138.8,"v":40,"v2":75},{"p":"c","h":147.5,"v":55,"v2":90},{"p":"c","h":151.5,"v":45,"v2":85},{"p":"c","h":156,"v":0,"v2":35},{"p":"c","h":162,"v":-25,"v2":10},{"p":"c","h":168,"v":-30,"v2":5},
      {"p":"d","h":0,"v":30,"v2":60},{"p":"d","h":11.4,"v":35,"v2":70},{"p":"d","h":19.8,"v":28,"v2":60},{"p":"d","h":29,"v":28,"v2":60},{"p":"d","h":35.4,"v":30,"v2":65},{"p":"d","h":40.6,"v":82,"v2":206},{"p":"d","h":46.4,"v":181,"v2":329},{"p":"d","h":51.6,"v":230,"v2":395},{"p":"d","h":57.4,"v":250,"v2":464},{"p":"d","h":61.5,"v":247,"v2":452},{"p":"d","h":66,"v":206,"v2":362},{"p":"d","h":70.6,"v":189,"v2":349},{"p":"d","h":75.7,"v":181,"v2":325},{"p":"d","h":86.5,"v":132,"v2":222},{"p":"d","h":88.8,"v":110,"v2":181},{"p":"d","h":93,"v":25,"v2":99},{"p":"d","h":99.5,"v":49,"v2":123},{"p":"d","h":104,"v":100,"v2":145},{"p":"d","h":110,"v":100,"v2":145},{"p":"d","h":115.8,"v":75,"v2":120},{"p":"d","h":130,"v":60,"v2":100},{"p":"d","h":138.8,"v":20,"v2":60},{"p":"d","h":147.5,"v":55,"v2":95},{"p":"d","h":150.4,"v":45,"v2":90},{"p":"d","h":156,"v":-45,"v2":-5},{"p":"d","h":162,"v":-65,"v2":-20},{"p":"d","h":168,"v":-70,"v2":-25}
    ],
    "V": [{"h":47,"v":-100,"v2":600},{"h":89,"v":-100,"v2":600},{"h":100,"v":-100,"v2":600},{"h":149,"v":-100,"v2":600}],
    "A": [{"h":47.7,"h2":88.8,"v":448},{"h":100.7,"h2":148.6,"v":448}],
    "H": [{"end":"start","h":47.7,"v":448},{"end":"end","h":88.8,"v":448},{"end":"start","h":100.7,"v":448},{"end":"end","h":148.6,"v":448}],
    "T": [{"p":"a","h":1.4,"v":-58,"t":"a"},{"p":"b","h":1.4,"v":-75,"t":"b"},{"p":"c","h":1.4,"v":-58,"t":"c"},{"p":"d","h":1.4,"v":-82,"t":"d"}],
    "N": [{"p":"a","h":1.6,"v":396,"t":"Long Point"},{"p":"c","h":3,"v":474,"t":"PermS2"}]
  },
  "vconcat": [
    {
      "width": 969, "height": 143,
      "encoding": {
        "x": {"field":"h","type":"quantitative","scale":{"domain":[0,168],"nice":false,"zero":false},"axis":{"values":[0,24,48,72,96,120,144,168],"labels":false,"title":null}},
        "y": {"field":"v","type":"quantitative","scale":{"domain":[-100,500],"nice":false,"zero":false},"axis":{"values":[-100,0,100,200,300,400,500],"title":"λE [W/m²]"}}
      },
      "layer": [
        {"data":{"name":"E"},"transform":[{"filter":"datum.p==='a'"}],"mark":{"type":"area","opacity":1},
         "encoding":{"y2":{"field":"v2"},"color":{"datum":"FVCOM ensemble","type":"nominal","title":null,"scale":{"domain":["FVCOM mean","NAM","CFSv2","Observations","FVCOM ensemble"],"range":["#4b4bff","#f04646","#33a033","#000000","#d3d3d3"]}}}},
        {"data":{"name":"L"},"transform":[{"filter":"datum.p==='a' && datum.s!=='Observations'"}],"mark":{"type":"line","strokeWidth":1.2},
         "encoding":{"color":{"field":"s","type":"nominal","title":null}}},
        {"data":{"name":"L"},"transform":[{"filter":"datum.p==='a' && datum.s==='Observations'"}],"mark":{"type":"line","strokeWidth":2.2},
         "encoding":{"detail":{"field":"g","type":"nominal"},"color":{"field":"s","type":"nominal","title":null}}},
        {"data":{"name":"V"},"mark":{"type":"rule","strokeDash":[6,4],"color":"#333333","strokeWidth":1,"clip":true},
         "encoding":{"y2":{"field":"v2"}}},
        {"data":{"name":"A"},"mark":{"type":"rule","color":"#333333","strokeWidth":1},
         "encoding":{"x2":{"field":"h2"}}},
        {"data":{"name":"H"},"transform":[{"filter":"datum.end==='start'"}],"mark":{"type":"point","shape":"M2,-1L0,0L2,1","filled":false,"size":49,"color":"#333333","strokeWidth":1,"opacity":1}},
        {"data":{"name":"H"},"transform":[{"filter":"datum.end==='end'"}],"mark":{"type":"point","shape":"M-2,-1L0,0L-2,1","filled":false,"size":49,"color":"#333333","strokeWidth":1,"opacity":1}},
        {"data":{"name":"T"},"transform":[{"filter":"datum.p==='a'"}],"mark":{"type":"text","align":"left","baseline":"alphabetic","fontSize":25,"font":"DejaVu Sans","color":"#000000"},
         "encoding":{"text":{"field":"t"}}},
        {"data":{"name":"N"},"transform":[{"filter":"datum.p==='a'"}],"mark":{"type":"text","align":"left","baseline":"alphabetic","fontSize":21.5,"font":"DejaVu Sans","color":"#000000"},
         "encoding":{"text":{"field":"t"}}}
      ]
    },
    {
      "width": 969, "height": 142,
      "encoding": {
        "x": {"field":"h","type":"quantitative","scale":{"domain":[0,168],"nice":false,"zero":false},"axis":{"values":[0,24,48,72,96,120,144,168],"labels":false,"title":null}},
        "y": {"field":"v","type":"quantitative","scale":{"domain":[-100,600],"nice":false,"zero":false},"axis":{"values":[-100,0,100,200,300,400,500,600],"title":"H [W/m²]"}}
      },
      "layer": [
        {"data":{"name":"E"},"transform":[{"filter":"datum.p==='b'"}],"mark":{"type":"area","opacity":1},
         "encoding":{"y2":{"field":"v2"},"color":{"datum":"FVCOM ensemble","type":"nominal","title":null}}},
        {"data":{"name":"L"},"transform":[{"filter":"datum.p==='b' && datum.s!=='Observations'"}],"mark":{"type":"line","strokeWidth":1.2},
         "encoding":{"color":{"field":"s","type":"nominal","title":null}}},
        {"data":{"name":"L"},"transform":[{"filter":"datum.p==='b' && datum.s==='Observations'"}],"mark":{"type":"line","strokeWidth":2.2},
         "encoding":{"detail":{"field":"g","type":"nominal"},"color":{"field":"s","type":"nominal","title":null}}},
        {"data":{"name":"V"},"mark":{"type":"rule","strokeDash":[6,4],"color":"#333333","strokeWidth":1,"clip":true},
         "encoding":{"y2":{"field":"v2"}}},
        {"data":{"name":"T"},"transform":[{"filter":"datum.p==='b'"}],"mark":{"type":"text","align":"left","baseline":"alphabetic","fontSize":25,"font":"DejaVu Sans","color":"#000000"},
         "encoding":{"text":{"field":"t"}}}
      ]
    },
    {
      "width": 969, "height": 144,
      "encoding": {
        "x": {"field":"h","type":"quantitative","scale":{"domain":[0,168],"nice":false,"zero":false},"axis":{"values":[0,24,48,72,96,120,144,168],"labels":false,"title":null}},
        "y": {"field":"v","type":"quantitative","scale":{"domain":[-100,600],"nice":false,"zero":false},"axis":{"values":[-100,0,100,200,300,400,500,600],"title":"λE [W/m²]"}}
      },
      "layer": [
        {"data":{"name":"E"},"transform":[{"filter":"datum.p==='c'"}],"mark":{"type":"area","opacity":1},
         "encoding":{"y2":{"field":"v2"},"color":{"datum":"FVCOM ensemble","type":"nominal","title":null}}},
        {"data":{"name":"L"},"transform":[{"filter":"datum.p==='c' && datum.s!=='Observations'"}],"mark":{"type":"line","strokeWidth":1.2},
         "encoding":{"color":{"field":"s","type":"nominal","title":null}}},
        {"data":{"name":"L"},"transform":[{"filter":"datum.p==='c' && datum.s==='Observations'"}],"mark":{"type":"line","strokeWidth":2.2},
         "encoding":{"detail":{"field":"g","type":"nominal"},"color":{"field":"s","type":"nominal","title":null}}},
        {"data":{"name":"V"},"mark":{"type":"rule","strokeDash":[6,4],"color":"#333333","strokeWidth":1,"clip":true},
         "encoding":{"y2":{"field":"v2"}}},
        {"data":{"name":"T"},"transform":[{"filter":"datum.p==='c'"}],"mark":{"type":"text","align":"left","baseline":"alphabetic","fontSize":25,"font":"DejaVu Sans","color":"#000000"},
         "encoding":{"text":{"field":"t"}}},
        {"data":{"name":"N"},"transform":[{"filter":"datum.p==='c'"}],"mark":{"type":"text","align":"left","baseline":"alphabetic","fontSize":21.5,"font":"DejaVu Sans","color":"#000000"},
         "encoding":{"text":{"field":"t"}}}
      ]
    },
    {
      "width": 969, "height": 141,
      "encoding": {
        "x": {"field":"h","type":"quantitative","scale":{"domain":[0,168],"nice":false,"zero":false},"axis":{"values":[0,24,48,72,96,120,144,168],"title":null,"labelAngle":-45,"labelAlign":"right","labelBaseline":"middle","labelFontSize":16,"labelOffset":-5,"labelExpr":"'11/' + (16 + datum.value / 24) + ' 00Z'"}},
        "y": {"field":"v","type":"quantitative","scale":{"domain":[-100,600],"nice":false,"zero":false},"axis":{"values":[-100,0,100,200,300,400,500,600],"title":"H [W/m²]"}}
      },
      "layer": [
        {"data":{"name":"E"},"transform":[{"filter":"datum.p==='d'"}],"mark":{"type":"area","opacity":1},
         "encoding":{"y2":{"field":"v2"},"color":{"datum":"FVCOM ensemble","type":"nominal","title":null}}},
        {"data":{"name":"L"},"transform":[{"filter":"datum.p==='d' && datum.s!=='Observations'"}],"mark":{"type":"line","strokeWidth":1.2},
         "encoding":{"color":{"field":"s","type":"nominal","title":null,
             "legend":{"title":null,"orient":"none","legendX":45,"legendY":731,"direction":"horizontal","columns":5,"columnPadding":41.5,"labelOffset":23,"padding":7,"strokeColor":"#444444","fillColor":"#ffffff","labelFont":"DejaVu Sans","labelFontSize":17,"labelColor":"#111111",
               "encode":{"symbols":{"update":{
                 "shape":{"signal":"datum.value === 'FVCOM ensemble' ? 'M-1.4,-0.9H1.4V0.9H-1.4Z' : 'stroke'"},
                 "fill":{"signal":"datum.value === 'FVCOM ensemble' ? '#d3d3d3' : 'transparent'"},
                 "stroke":{"signal":"datum.value === 'FVCOM mean' ? '#4b4bff' : datum.value === 'NAM' ? '#f04646' : datum.value === 'CFSv2' ? '#33a033' : datum.value === 'Observations' ? '#000000' : '#d3d3d3'"},
                 "strokeWidth":{"signal":"datum.value === 'Observations' ? 2.5 : 1.3"},
                 "size":{"value":400},
                 "opacity":{"value":1}}}}}}}},
        {"data":{"name":"L"},"transform":[{"filter":"datum.p==='d' && datum.s==='Observations'"}],"mark":{"type":"line","strokeWidth":2.2},
         "encoding":{"detail":{"field":"g","type":"nominal"},"color":{"field":"s","type":"nominal","title":null}}},
        {"data":{"name":"V"},"mark":{"type":"rule","strokeDash":[6,4],"color":"#333333","strokeWidth":1,"clip":true},
         "encoding":{"y2":{"field":"v2"}}},
        {"data":{"name":"T"},"transform":[{"filter":"datum.p==='d'"}],"mark":{"type":"text","align":"left","baseline":"alphabetic","fontSize":25,"font":"DejaVu Sans","color":"#000000"},
         "encoding":{"text":{"field":"t"}}}
      ]
    }
  ],
  "config": {
    "view": {"stroke": "#3c3c3c", "strokeWidth": 1.2},
    "axis": {"grid": false, "domain": false, "ticks": true, "tickSize": -5, "tickColor": "#3c3c3c", "labelFont": "DejaVu Sans", "labelFontSize": 15, "labelColor": "#111111", "labelPadding": 8, "labelFlush": false, "labelOverlap": false, "titleFont": "DejaVu Serif", "titleFontStyle": "italic", "titleFontWeight": "normal", "titleFontSize": 17, "titleColor": "#222222", "titlePadding": 8}
  }
}
